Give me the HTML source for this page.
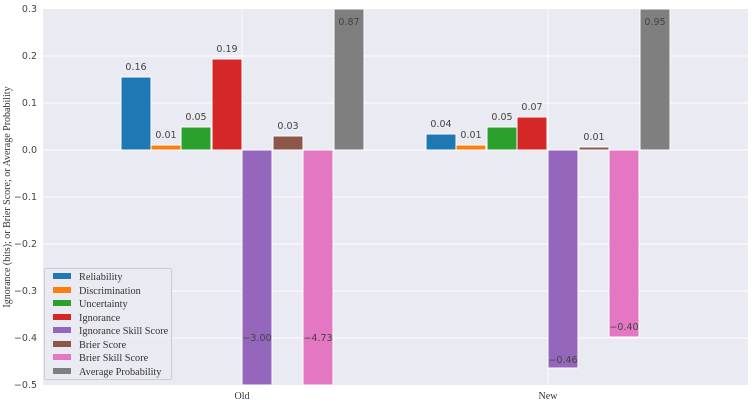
<!DOCTYPE html>
<html><head><meta charset="utf-8"><style>
html,body{margin:0;padding:0;background:#fff;}
svg{display:block;}
.t{font-family:"DejaVu Sans","Liberation Sans",sans-serif;font-size:9.5px;fill:#444;}
.s{font-family:"Liberation Serif",serif;font-size:10px;fill:#333;}
</style></head><body>
<svg width="754" height="405" viewBox="0 0 754 405">
<rect x="43" y="9" width="705" height="376" fill="#eaeaf2"/>
<g stroke="#fff" stroke-width="1">
<line x1="43" x2="748" y1="56" y2="56"/><line x1="43" x2="748" y1="103" y2="103"/>
<line x1="43" x2="748" y1="150" y2="150"/><line x1="43" x2="748" y1="197" y2="197"/>
<line x1="43" x2="748" y1="244" y2="244"/><line x1="43" x2="748" y1="291" y2="291"/>
<line x1="43" x2="748" y1="338" y2="338"/>
<line x1="242" x2="242" y1="9" y2="385"/><line x1="548" x2="548" y1="9" y2="385"/>
</g>
<g stroke="#fff" stroke-width="1">
<rect x="121" y="77" width="30" height="73" fill="#1f77b4"/>
<rect x="151" y="145" width="30" height="5" fill="#ff7f0e"/>
<rect x="181" y="127" width="30" height="23" fill="#2ca02c"/>
<rect x="212" y="59" width="30" height="91" fill="#d62728"/>
<rect x="242" y="150" width="30" height="235" fill="#9467bd"/>
<rect x="273" y="136" width="30" height="14" fill="#8c564b"/>
<rect x="303" y="150" width="30" height="235" fill="#e377c2"/>
<rect x="334" y="9" width="30" height="141" fill="#7f7f7f"/>
<rect x="426" y="134" width="30" height="16" fill="#1f77b4"/>
<rect x="456" y="145" width="30" height="5" fill="#ff7f0e"/>
<rect x="487" y="127" width="30" height="23" fill="#2ca02c"/>
<rect x="517" y="117" width="30" height="33" fill="#d62728"/>
<rect x="548" y="150" width="30" height="218" fill="#9467bd"/>
<rect x="579" y="147" width="30" height="3" fill="#8c564b"/>
<rect x="609" y="150" width="30" height="187" fill="#e377c2"/>
<rect x="640" y="9" width="30" height="141" fill="#7f7f7f"/>
</g>
<g class="t" text-anchor="middle">
<text x="136" y="70">0.16</text><text x="166" y="138">0.01</text><text x="196" y="120">0.05</text>
<text x="227" y="52">0.19</text><text x="257" y="341">−3.00</text><text x="288" y="129">0.03</text>
<text x="318" y="341">−4.73</text><text x="349" y="25">0.87</text>
<text x="441" y="127">0.04</text><text x="471" y="138">0.01</text><text x="502" y="120">0.05</text>
<text x="532" y="110">0.07</text><text x="563" y="363">−0.46</text><text x="594" y="140">0.01</text>
<text x="624" y="330">−0.40</text><text x="655" y="25">0.95</text>
</g>
<g class="t" text-anchor="end">
<text x="37" y="12">0.3</text><text x="37" y="59">0.2</text><text x="37" y="106">0.1</text>
<text x="37" y="153">0.0</text><text x="37" y="200">−0.1</text><text x="37" y="247">−0.2</text>
<text x="37" y="294">−0.3</text><text x="37" y="341">−0.4</text><text x="37" y="388">−0.5</text>
</g>
<text class="s" x="242" y="399" text-anchor="middle">Old</text>
<text class="s" x="548" y="399" text-anchor="middle">New</text>
<text class="s" transform="translate(10,197) rotate(-90)" text-anchor="middle">Ignorance (bits); or Brier Score; or Average Probability</text>
<rect x="44.5" y="268.5" width="127" height="111" rx="2" fill="#eaeaf2" fill-opacity="0.85" stroke="#ccc"/>
<g>
<rect x="53" y="273" width="18" height="6" fill="#1f77b4"/>
<rect x="53" y="287" width="18" height="6" fill="#ff7f0e"/>
<rect x="53" y="300" width="18" height="6" fill="#2ca02c"/>
<rect x="53" y="314" width="18" height="6" fill="#d62728"/>
<rect x="53" y="327" width="18" height="6" fill="#9467bd"/>
<rect x="53" y="341" width="18" height="6" fill="#8c564b"/>
<rect x="53" y="354" width="18" height="6" fill="#e377c2"/>
<rect x="53" y="368" width="18" height="6" fill="#7f7f7f"/>
</g>
<g class="s" style="font-size:10.3px">
<text x="79" y="280">Reliability</text><text x="79" y="294">Discrimination</text>
<text x="79" y="307">Uncertainty</text><text x="79" y="321">Ignorance</text>
<text x="79" y="334">Ignorance Skill Score</text><text x="79" y="348">Brier Score</text>
<text x="79" y="361">Brier Skill Score</text><text x="79" y="375">Average Probability</text>
</g>
</svg>
</body></html>
